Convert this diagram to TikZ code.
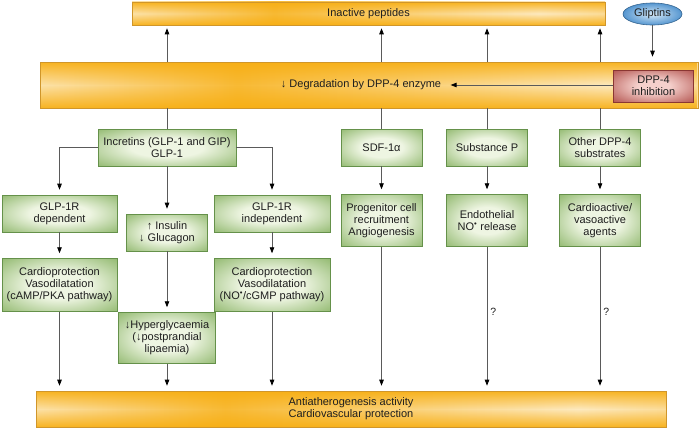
\documentclass[tikz,border=0pt]{standalone}
\usepackage{fontspec}
\setmainfont{Liberation Sans}
\usetikzlibrary{arrows.meta, positioning, shapes.geometric, calc, fadings}

\definecolor{barorange}{HTML}{F7AE12}
\definecolor{barlight}{HTML}{FDE9BE}
\definecolor{barborder}{HTML}{D0962A}
\definecolor{greenmid}{HTML}{82AF5C}
\definecolor{greenlight}{HTML}{EEF5E2}
\definecolor{greenborder}{HTML}{65914A}
\definecolor{redmid}{HTML}{AE4A45}
\definecolor{redlight}{HTML}{F5D0CC}
\definecolor{redborder}{HTML}{8A3632}
\definecolor{bluemid}{HTML}{5596D0}
\definecolor{bluelight}{HTML}{D4E8F7}
\definecolor{blueborder}{HTML}{33638F}
\definecolor{linegray}{HTML}{5A5A5A}
\definecolor{textdark}{HTML}{1E1E1E}

% shadings
\pgfdeclarehorizontalshading{barshade}{100bp}{
  color(0bp)=(barorange); color(22bp)=(barlight); color(40bp)=(barorange!80!barlight);
  color(68bp)=(barlight); color(100bp)=(barorange)}
\pgfdeclareradialshading{greenshade}{\pgfpoint{0bp}{0bp}}{
  color(0bp)=(greenlight); color(13bp)=(greenlight); color(40bp)=(greenmid);
  color(50bp)=(greenmid!85!black)}
\pgfdeclareradialshading{redshade}{\pgfpoint{0bp}{0bp}}{
  color(0bp)=(redlight); color(10bp)=(redlight); color(38bp)=(redmid);
  color(50bp)=(redmid)}
\tikzfading[name=edgefade, top color=transparent!10, bottom color=transparent!10,
  middle color=transparent!100]

\begin{document}
\begin{tikzpicture}[
    x=1pt, y=-1pt,
    % --- Global styles ---
    every node/.style={font=\fontsize{11}{12}\selectfont, text=textdark},
    % --- Bars ---
    bar/.style={
      draw=barborder, line width=0.6pt, shading=barshade,
      path picture={\fill[barorange, path fading=edgefade]
        (path picture bounding box.south west) rectangle
        (path picture bounding box.north east);},
      inner sep=0pt,
    },
    % --- Green boxes ---
    gbox/.style={
      draw=greenborder, line width=0.6pt, shading=greenshade,
      minimum width=81pt, minimum height=37pt,
      inner sep=1pt, align=center,
    },
    tall gbox/.style={gbox, minimum height=52pt},
    wide gbox/.style={gbox, minimum width=116pt},
    drug/.style={
      ellipse, draw=blueborder, line width=0.6pt,
      inner color=bluelight, outer color=bluemid,
      minimum width=59pt, minimum height=22pt, inner sep=0pt,
    },
    inhib/.style={
      draw=redborder, line width=0.6pt, shading=redshade,
      minimum width=80pt, minimum height=32pt, inner sep=0pt, align=center,
    },
    % --- Arrow styles ---
    arr/.style={-{Triangle[length=6pt,width=4.5pt,color=black]}, draw=linegray,
                line width=0.8pt, shorten >=5pt},
    line/.style={draw=linegray, line width=0.8pt},
    qlbl/.style={inner sep=1pt, font=\fontsize{10.5}{12}\selectfont},
  ]
  \useasboundingbox (0,0) rectangle (700,428);

  %% ---- Bars ----

  % Inactive peptides
  \node[bar, minimum width=473pt, minimum height=23pt] (inactive)
    at (368.5,13.5) {Inactive peptides};

  % Degradation
  \node[bar, minimum width=658pt, minimum height=46pt] (degbar) at (369,85) {};
  \node (degtext) at (361,85) {↓ Degradation by DPP-4 enzyme};

  % Antiatherogenesis
  \node[bar, minimum width=630pt, minimum height=36pt, align=center] (antibar)
    at (351,409) {Antiatherogenesis activity\\Cardiovascular protection};

  %% ---- Gliptins / DPP-4 ----

  \node[drug] (gliptins) at (652.5,14) {Gliptins};
  \node[inhib] (dpp) at (653.5,86) {DPP-4\\inhibition};

  %% ---- Incretin branch ----

  \node[gbox, minimum width=138pt] (incretins) at (167,147.5)
    {Incretins (GLP-1 and GIP)\\GLP-1};

  \node[wide gbox, minimum width=115pt] (glpdep) at (59.5,213.5)
    {GLP-1R\\dependent};
  \node[gbox] (insulin) at (167,232.5)
    {↑ Insulin\\↓ Glucagon};
  \node[wide gbox] (glpind) at (272,213.5)
    {GLP-1R\\independent};

  \node[wide gbox, minimum width=115pt, minimum height=53pt,
        below=26pt of glpdep] (cardiodep)
    {Cardioprotection\\Vasodilatation\\(cAMP/PKA pathway)};
  \node[wide gbox, minimum height=53pt, below=26pt of glpind] (cardioind)
    {Cardioprotection\\Vasodilatation\\(NO\textsuperscript{•}/cGMP pathway)};
  \node[gbox, minimum width=97pt, minimum height=51pt,
        below=61pt of insulin] (hyper)
    {↓Hyperglycaemia\\(↓postprandial\\lipaemia)};

  %% ---- Other substrates ----

  \node[gbox] (sdf) at (381.5,147.5) {SDF-1α};
  \node[gbox] (subp) at (487,147.5) {Substance P};
  \node[gbox] (other) at (600,147.5) {Other DPP-4\\substrates};

  \node[tall gbox, below=28pt of sdf] (progen)
    {Progenitor cell\\recruitment\\Angiogenesis};
  \node[tall gbox, below=28pt of subp] (endo)
    {Endothelial\\NO\textsuperscript{•} release};
  \node[tall gbox, below=28pt of other] (cardioact)
    {Cardioactive/\\vasoactive\\agents};

  %% ---- Arrows ----

  % up to inactive peptides
  \foreach \src in {incretins, sdf, subp, other}
    \draw[arr, shorten >=3pt] (degbar.north -| \src) -- (inactive.south -| \src);

  % down from degradation
  \foreach \dst in {incretins, sdf, subp, other}
    \draw[line] (degbar.south -| \dst) -- (\dst.north);

  \draw[arr] (gliptins) -- (gliptins |- degbar.north);
  \draw[arr, shorten >=6pt] (dpp.west |- degtext) -- (degtext.east);

  \draw[arr] (incretins.west) -| (glpdep);
  \draw[arr] (incretins.east) -| (glpind);
  \draw[arr] (incretins) -- (insulin);

  \draw[arr] (glpdep) -- (cardiodep);
  \draw[arr] (glpind) -- (cardioind);
  \draw[arr] (insulin) -- (hyper);

  \draw[arr] (sdf) -- (progen);
  \draw[arr] (subp) -- (endo);
  \draw[arr] (other) -- (cardioact);

  % down to antiatherogenesis
  \foreach \src in {cardiodep, hyper, cardioind, progen}
    \draw[arr] (\src) -- (\src |- antibar.north);
  \draw[arr] (endo) -- (endo |- antibar.north)
    node[qlbl, pos=0.45, right=2pt] {?};
  \draw[arr] (cardioact) -- (cardioact |- antibar.north)
    node[qlbl, pos=0.45, right=2pt] {?};

\end{tikzpicture}
\end{document}
